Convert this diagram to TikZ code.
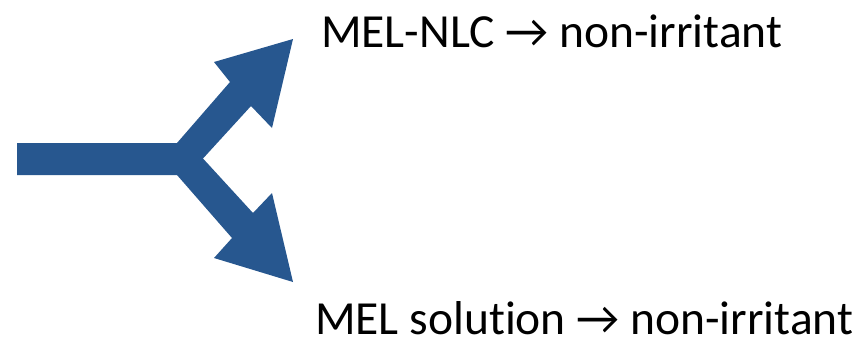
\documentclass[tikz,border=0pt]{standalone}
\usepackage{fontspec}
\setmainfont{Carlito}[Ligatures={NoCommon,NoRequired,NoContextual}, RawFeature={-liga;-dlig}]
\definecolor{armblue}{HTML}{27578F}
\begin{document}
\begin{tikzpicture}[x=1pt, y=-1pt,
    lbl/.style={anchor=base west, inner sep=0pt, font=\fontsize{47.5}{50}\selectfont}]
        \useasboundingbox (0,0) rectangle (861,341);
        % split arrow
        \fill [armblue] (17,143)--(177,143)--(230,82)--(214,62)--(293,39)--(272,128)--(251,106)
            --(203,158.5)--(253,213)--(272,193)--(293,282)--(214,258)--(232,238)--(177,175)--(17,175)--cycle;
        \node [lbl] (nlc) at (321,47) {MEL-NLC → non-irritant};
        \node [lbl] (sol) at (315,334) {MEL solution → non-irritant};
    \end{tikzpicture}
\end{document}
